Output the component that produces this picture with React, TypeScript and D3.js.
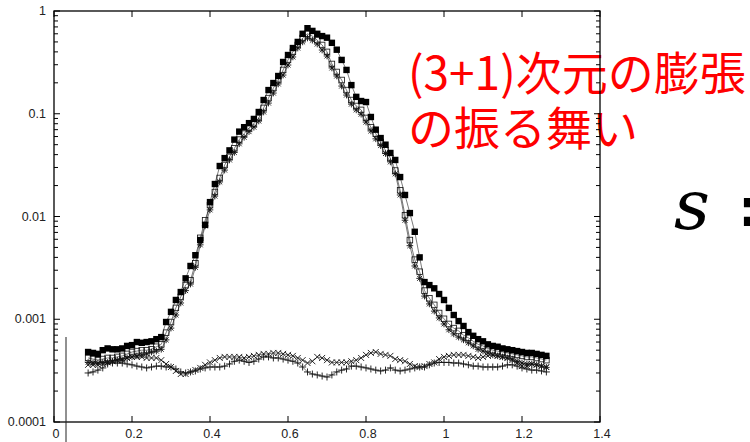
import React from "react";
import * as d3 from "d3";

const W = 750;
const H = 442;
const FRAME = { LEFT: 54, RIGHT: 600, TOP: 11, BOTTOM: 422 };

// sample positions along x (same grid for every series)
const X_START = 0.0875;
const X_STEP = 0.0125;
const xs = d3.range(95).map((i) => +(X_START + i * X_STEP).toFixed(4));

const filledSq = [
  0.00048, 0.00047, 0.00046, 0.0005, 0.00052, 0.00051, 0.00051, 0.00052, 0.00055, 0.00056,
  0.0006, 0.00059, 0.0006, 0.00061, 0.00064, 0.00067, 0.00094, 0.00118, 0.00154, 0.00184,
  0.0025, 0.0033, 0.0042, 0.0059, 0.0083, 0.0138, 0.0207, 0.031, 0.037, 0.044,
  0.056, 0.067, 0.074, 0.081, 0.089, 0.104, 0.136, 0.17, 0.199, 0.233,
  0.319, 0.373, 0.436, 0.5, 0.6, 0.68, 0.64, 0.6, 0.57, 0.55,
  0.49, 0.42, 0.334, 0.267, 0.19, 0.146, 0.133, 0.13, 0.093, 0.07,
  0.058, 0.05, 0.0415, 0.0355, 0.0242, 0.0162, 0.0108, 0.0071, 0.004, 0.0023,
  0.00215, 0.002, 0.00176, 0.00154, 0.00129, 0.0011, 0.00096, 0.00086, 0.00075, 0.00069,
  0.00064, 0.00061, 0.00057, 0.00055, 0.00054, 0.00052, 0.00051, 0.0005, 0.00049, 0.00048,
  0.00047, 0.00047, 0.00046, 0.00045, 0.00044,
];

const openSq = [
  0.00042, 0.00041, 0.0004, 0.00041, 0.00042, 0.00042, 0.00043, 0.00044, 0.00046, 0.00048,
  0.00049, 0.0005, 0.0005, 0.00051, 0.00054, 0.00057, 0.00074, 0.00094, 0.00129, 0.00165,
  0.00215, 0.0024, 0.0035, 0.0062, 0.0092, 0.0129, 0.0173, 0.0237, 0.0317, 0.038,
  0.046, 0.056, 0.064, 0.073, 0.08, 0.091, 0.114, 0.142, 0.178, 0.213,
  0.267, 0.334, 0.4, 0.467, 0.546, 0.6, 0.57, 0.52, 0.467, 0.4,
  0.305, 0.255, 0.213, 0.17, 0.136, 0.119, 0.109, 0.091, 0.074, 0.064,
  0.053, 0.044, 0.037, 0.028, 0.018, 0.0103, 0.0059, 0.0038, 0.0029, 0.0019,
  0.0016, 0.00138, 0.00115, 0.00101, 0.0009, 0.00082, 0.00077, 0.0007, 0.00066, 0.00061,
  0.00057, 0.00055, 0.00052, 0.0005, 0.00049, 0.00048, 0.00047, 0.00046, 0.00045, 0.00044,
  0.00043, 0.00043, 0.00042, 0.00041, 0.0004,
];

const star = [
  0.00038, 0.000375, 0.000375, 0.00038, 0.00038, 0.00039, 0.0004, 0.0004, 0.00042, 0.00043,
  0.00044, 0.00045, 0.00046, 0.00048, 0.00049, 0.00051, 0.00063, 0.00082, 0.0011, 0.00144,
  0.0019, 0.0022, 0.0032, 0.0053, 0.0081, 0.0116, 0.0158, 0.0217, 0.0283, 0.0355,
  0.042, 0.051, 0.059, 0.067, 0.074, 0.085, 0.104, 0.127, 0.159, 0.195,
  0.238, 0.298, 0.357, 0.436, 0.5, 0.546, 0.52, 0.477, 0.417, 0.365,
  0.279, 0.233, 0.186, 0.152, 0.124, 0.109, 0.099, 0.083, 0.068, 0.057,
  0.049, 0.041, 0.034, 0.026, 0.0162, 0.0092, 0.0052, 0.0033, 0.0025, 0.00168,
  0.00141, 0.0012, 0.00103, 0.0009, 0.00079, 0.00072, 0.00067, 0.00063, 0.00059, 0.00055,
  0.00051, 0.00049, 0.00047, 0.00045, 0.00044, 0.00043, 0.00042, 0.00041, 0.00039, 0.000375,
  0.000367, 0.000367, 0.00036, 0.00035, 0.00034,
];

const cross = [
  0.00036, 0.00036, 0.00036, 0.000367, 0.00038, 0.00039, 0.0004, 0.00041, 0.00042, 0.00043,
  0.00043, 0.00043, 0.00042, 0.00042, 0.00042, 0.0004, 0.000367, 0.000343, 0.000314, 0.000293,
  0.000293, 0.000307, 0.000321, 0.000336, 0.00036, 0.00038, 0.0004, 0.00042, 0.00043, 0.00043,
  0.00043, 0.00043, 0.00042, 0.00043, 0.00044, 0.00045, 0.00046, 0.00046, 0.00047, 0.00047,
  0.00046, 0.00045, 0.00044, 0.00042, 0.0004, 0.000375, 0.00039, 0.00043, 0.00042, 0.0004,
  0.00038, 0.00038, 0.00038, 0.00038, 0.00039, 0.0004, 0.00042, 0.00045, 0.00047, 0.00048,
  0.00046, 0.00045, 0.00044, 0.00041, 0.0004, 0.00039, 0.000367, 0.00035, 0.000343, 0.00035,
  0.000367, 0.00038, 0.00041, 0.00043, 0.00044, 0.00045, 0.00045, 0.00045, 0.00044, 0.00043,
  0.00042, 0.00043, 0.00044, 0.00045, 0.00044, 0.00043, 0.00042, 0.0004, 0.000375, 0.00035,
  0.00035, 0.000367, 0.00036, 0.00035, 0.000343,
];

const plus = [
  0.0003, 0.000307, 0.00032, 0.000336, 0.000367, 0.000375, 0.000375, 0.000375, 0.000367, 0.00036,
  0.00035, 0.000343, 0.000336, 0.000343, 0.00035, 0.00035, 0.000343, 0.000343, 0.000328, 0.000307,
  0.0003, 0.000307, 0.000314, 0.000328, 0.000336, 0.000343, 0.000343, 0.000343, 0.00035, 0.000367,
  0.00039, 0.0004, 0.00039, 0.00038, 0.00039, 0.00041, 0.00043, 0.00043, 0.00042, 0.00042,
  0.00041, 0.0004, 0.00039, 0.000375, 0.000343, 0.000307, 0.000293, 0.000287, 0.00028, 0.000274,
  0.000287, 0.000307, 0.00032, 0.000328, 0.00035, 0.00035, 0.000343, 0.000336, 0.000328, 0.00032,
  0.000314, 0.00032, 0.000336, 0.00032, 0.000314, 0.00032, 0.000328, 0.000336, 0.000343, 0.000343,
  0.00036, 0.000375, 0.00038, 0.00038, 0.00038, 0.000375, 0.000375, 0.000367, 0.00036, 0.00035,
  0.00035, 0.000343, 0.000343, 0.000343, 0.000343, 0.00035, 0.00036, 0.00036, 0.00035, 0.000336,
  0.000328, 0.00032, 0.00032, 0.000314, 0.000307,
];

const xTicks = [0, 0.2, 0.4, 0.6, 0.8, 1, 1.2, 1.4];
const xTickLabels = ["0", "0.2", "0.4", "0.6", "0.8", "1", "1.2", "1.4"];
const yTicks = [0.0001, 0.001, 0.01, 0.1, 1];
const yTickLabels = ["0.0001", "0.001", "0.01", "0.1", "1"];

const titleLines = ["(3+1)次元の膨張", "の振る舞い"];

const x = d3.scaleLinear().domain([0, 1.4]).range([FRAME.LEFT, FRAME.RIGHT]);
const y = d3.scaleLog().domain([0.0001, 1]).range([FRAME.BOTTOM, FRAME.TOP]);

// marker path makers, centred on (cx, cy)
const plusPath = (cx, cy, h) => `M${cx - h},${cy}H${cx + h}M${cx},${cy - h}V${cy + h}`;
const timesPath = (cx, cy, h) =>
  `M${cx - h},${cy - h}L${cx + h},${cy + h}M${cx - h},${cy + h}L${cx + h},${cy - h}`;
const starPath = (cx, cy, h) => plusPath(cx, cy, h) + timesPath(cx, cy, h * 0.75);

const seriesDefs = [
  { name: "plus", values: plus, kind: "plus" },
  { name: "cross", values: cross, kind: "times" },
  { name: "star", values: star, kind: "star" },
  { name: "openSq", values: openSq, kind: "open" },
  { name: "filledSq", values: filledSq, kind: "filled" },
];

function Marker({ kind, cx, cy }) {
  if (kind === "filled")
    return <rect x={cx - 3.2} y={cy - 3.2} width={6.4} height={6.4} fill="#000" />;
  if (kind === "open")
    return (
      <rect x={cx - 2.8} y={cy - 2.8} width={5.6} height={5.6} fill="none" stroke="#111" strokeWidth={0.8} />
    );
  let d = plusPath(cx, cy, 3.5);
  if (kind === "times") d = timesPath(cx, cy, 3);
  if (kind === "star") d = starPath(cx, cy, 3.3);
  return <path d={d} stroke="#111" strokeWidth={0.9} fill="none" />;
}

const sansFont = "'Liberation Sans', Arial, Helvetica, sans-serif";
const serifFont = "'DejaVu Serif', 'Liberation Serif', serif";

export default function App() {
  const line = d3
    .line()
    .x((d) => x(d[0]))
    .y((d) => y(d[1]));

  const minorTicks = y.ticks().filter((t) => !yTicks.some((m) => Math.abs(m - t) / m < 1e-6));

  return (
    <svg width={W} height={H} style={{ position: "absolute", left: 0, top: 0, background: "#fff" }}>
      <rect width={W} height={H} fill="#fff" />

      {/* red caption */}
      <text fill="#ff0000" style={{ fontFamily: "'Noto Sans CJK JP', sans-serif", fontSize: 46 }}>
        {titleLines.map((t, i) => (
          <tspan key={i} x={408} y={90 + i * 55}>
            {t}
          </tspan>
        ))}
      </text>

      {/* math fragment on the right, cut by the page edge */}
      <text x={674} y={229} fill="#000" style={{ fontFamily: serifFont, fontStyle: "italic", fontSize: 70 }}>
        s
      </text>
      <text x={735} y={238} fill="#000" style={{ fontFamily: serifFont, fontWeight: 700, fontSize: 84 }}>
        =
      </text>

      {/* series lines */}
      {seriesDefs.map((s) => (
        <path
          key={s.name + "-line"}
          d={line(xs.map((xv, i) => [xv, s.values[i]]))}
          fill="none"
          stroke="#222"
          strokeWidth={0.6}
        />
      ))}

      {/* series markers */}
      {seriesDefs.map((s) => (
        <g key={s.name}>
          {xs.map((xv, i) => (
            <Marker key={i} kind={s.kind} cx={x(xv)} cy={y(s.values[i])} />
          ))}
        </g>
      ))}

      {/* frame and ticks */}
      <rect
        x={FRAME.LEFT}
        y={FRAME.TOP}
        width={FRAME.RIGHT - FRAME.LEFT}
        height={FRAME.BOTTOM - FRAME.TOP}
        fill="none"
        stroke="#000"
        strokeWidth={1.3}
      />
      <g stroke="#000" strokeWidth={1}>
        {xTicks.map((t) => (
          <g key={"xt" + t}>
            <line x1={x(t)} x2={x(t)} y1={FRAME.BOTTOM} y2={FRAME.BOTTOM - 6} />
            <line x1={x(t)} x2={x(t)} y1={FRAME.TOP} y2={FRAME.TOP + 6} />
          </g>
        ))}
        {yTicks.map((t) => (
          <g key={"yt" + t}>
            <line x1={FRAME.LEFT} x2={FRAME.LEFT + 6} y1={y(t)} y2={y(t)} />
            <line x1={FRAME.RIGHT} x2={FRAME.RIGHT - 6} y1={y(t)} y2={y(t)} />
          </g>
        ))}
        {minorTicks.map((t, i) => (
          <g key={"ym" + i}>
            <line x1={FRAME.LEFT} x2={FRAME.LEFT + 4} y1={y(t)} y2={y(t)} />
            <line x1={FRAME.RIGHT} x2={FRAME.RIGHT - 4} y1={y(t)} y2={y(t)} />
          </g>
        ))}
      </g>

      {/* stray vertical line near the origin */}
      <line x1={66} x2={66} y1={337} y2={442} stroke="#222" strokeWidth={1} />

      {/* tick labels */}
      <g fill="#222" style={{ fontFamily: sansFont, fontSize: 12.5 }}>
        {yTicks.map((t, i) => (
          <text key={"yl" + t} x={46} y={y(t) + 4} textAnchor="end">
            {yTickLabels[i]}
          </text>
        ))}
        {xTicks.map((t, i) => (
          <text key={"xl" + t} x={x(t) + 2} y={438} textAnchor="middle">
            {xTickLabels[i]}
          </text>
        ))}
      </g>
    </svg>
  );
}
